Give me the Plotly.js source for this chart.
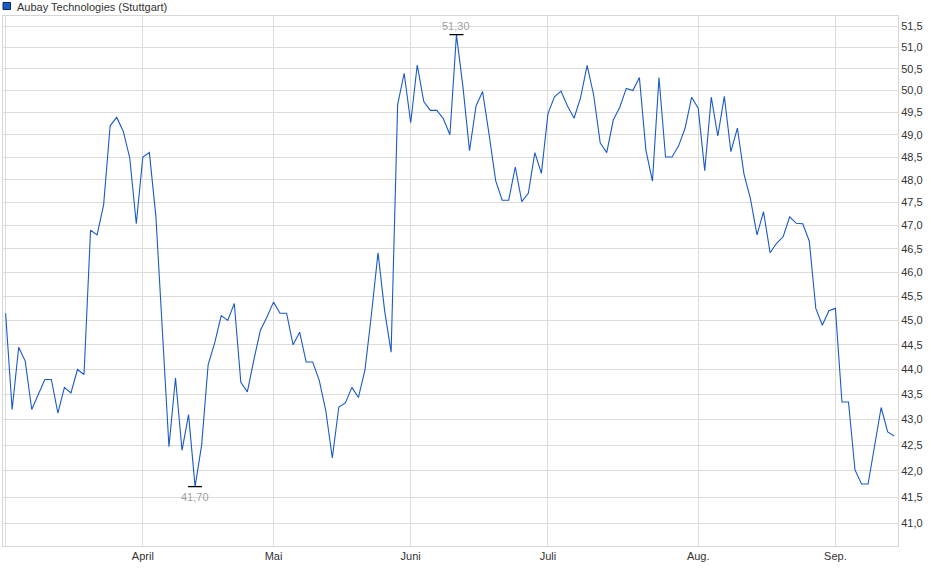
<!DOCTYPE html>
<html>
<head>
<meta charset="utf-8">
<script src="https://cdn.plot.ly/plotly-3.0.1.min.js"></script>
<style>
html,body{margin:0;padding:0;background:#fff;}
#chart{width:940px;height:579px;}
</style>
</head>
<body>
<div id="chart"></div>
<script>
// ---- data ----
const seriesName = 'Aubay Technologies (Stuttgart)';
const firstTradingDay = '2025-03-03';
const exchangeHolidays = ['2025-04-18', '2025-04-21', '2025-05-01'];

const prices = [
  45.15, 43.20, 44.45, 44.17, 43.20, 43.50, 43.80, 43.80, 43.13, 43.64,
  43.53, 44.00, 43.90, 46.90, 46.80, 47.45, 49.20, 49.39, 49.08, 48.48,
  47.04, 48.50, 48.60, 47.20, 44.80, 42.47, 43.83, 42.40, 43.10, 41.70,
  42.50, 44.10, 44.54, 45.10, 45.00, 45.35, 43.74, 43.55, 44.20, 44.80,
  45.07, 45.38, 45.15, 45.15, 44.50, 44.76, 44.15, 44.15, 43.78, 43.18,
  42.25, 43.25, 43.33, 43.64, 43.44, 43.99, 45.14, 46.42, 45.21, 44.35,
  49.68, 50.40, 49.27, 50.59, 49.75, 49.55, 49.55, 49.36, 49.00, 51.30,
  50.08, 48.64, 49.65, 49.98, 49.00, 47.98, 47.55, 47.55, 48.28, 47.52,
  47.70, 48.60, 48.14, 49.47, 49.86, 49.99, 49.65, 49.37, 49.84, 50.58,
  49.90, 48.82, 48.60, 49.33, 49.62, 50.05, 50.00, 50.30, 48.65, 47.97,
  50.30, 48.50, 48.50, 48.75, 49.15, 49.85, 49.60, 48.20, 49.85, 48.97,
  49.87, 48.62, 49.15, 48.13, 47.58, 46.80, 47.30, 46.42, 46.62, 46.76,
  47.19, 47.05, 47.04, 46.67, 45.25, 44.90, 45.20, 45.25, 43.35, 43.35,
  42.02, 41.75, 41.75, 42.53, 43.24, 42.76, 42.68
];

const monthTickDates  = ['2025-03-03', '2025-04-01', '2025-05-02', '2025-06-02', '2025-07-01', '2025-08-01', '2025-09-01'];
const monthTickLabels = ['', 'April', 'Mai', 'Juni', 'Juli', 'Aug.', 'Sep.'];

const yTickValues = [41.0, 41.5, 42.0, 42.5, 43.0, 43.5, 44.0, 44.5, 45.0, 45.5,
                     46.0, 46.5, 47.0, 47.5, 48.0, 48.5, 49.0, 49.5, 50.0, 50.5, 51.0, 51.5];

// ---- trading-day calendar (x categories) ----
function tradingDays(start, count, holidays) {
  const out = [];
  const d = new Date(start + 'T00:00:00Z');
  while (out.length < count) {
    const wd = d.getUTCDay();
    const iso = d.toISOString().slice(0, 10);
    if (wd !== 0 && wd !== 6 && holidays.indexOf(iso) < 0) out.push(iso);
    d.setUTCDate(d.getUTCDate() + 1);
  }
  return out;
}
const dates = tradingDays(firstTradingDay, prices.length, exchangeHolidays);

const maxVal = Math.max.apply(null, prices);
const minVal = Math.min.apply(null, prices);
const iMax = prices.indexOf(maxVal);
const iMin = prices.indexOf(minVal);
const fmt = v => v.toFixed(2).replace('.', ',');

const lineColor = '#1a5ac6';
const W = 940, H = 579;
const M = {l: 3, r: 42, t: 16, b: 33};
const pw = W - M.l - M.r, ph = H - M.t - M.b;
const px = x => (x - M.l) / pw;
const py = y => (H - M.b - y) / ph;

const traces = [
  {
    x: dates, y: prices, type: 'scatter', mode: 'lines',
    name: seriesName,
    line: {color: lineColor, width: 1.1},
    hoverinfo: 'x+y', showlegend: false
  },
  {
    x: [dates[iMax], dates[iMin]], y: [maxVal, minVal],
    type: 'scatter', mode: 'markers',
    marker: {symbol: 'line-ew', size: 10, color: '#000', line: {color: '#000', width: 1.3}},
    hoverinfo: 'skip', showlegend: false
  }
];

const layout = {
  width: W, height: H,
  margin: M,
  paper_bgcolor: '#fff', plot_bgcolor: '#fff',
  separators: ',.',
  font: {family: '"Liberation Sans", Arial, sans-serif', size: 11, color: '#333'},
  showlegend: false,
  xaxis: {
    type: 'category',
    range: [-0.4, prices.length - 1 + 0.58],
    tickmode: 'array', tickvals: monthTickDates, ticktext: monthTickLabels,
    showgrid: true, gridcolor: '#dcdcdc', gridwidth: 1,
    showline: true, mirror: true, linecolor: '#d6d6d6', linewidth: 1,
    ticks: '', zeroline: false,
    tickfont: {size: 11, color: '#333'}
  },
  yaxis: {
    type: 'log', side: 'right',
    range: [Math.log10(40.58), Math.log10(51.74)],
    tickmode: 'array', tickvals: yTickValues, tickformat: '.1f',
    showgrid: true, gridcolor: '#dcdcdc', gridwidth: 1,
    showline: true, mirror: true, linecolor: '#d6d6d6', linewidth: 1,
    ticks: '', zeroline: false,
    tickfont: {size: 11, color: '#333'}
  },
  shapes: [
    {type: 'rect', xref: 'paper', yref: 'paper',
     x0: px(3), x1: px(10.5), y0: py(9.5), y1: py(2.5),
     fillcolor: '#1a5ac6', line: {color: '#0b2a6b', width: 1}}
  ],
  annotations: [
    {xref: 'paper', yref: 'paper', x: px(15), y: py(6.5), xanchor: 'left', yanchor: 'middle',
     text: seriesName, showarrow: false, font: {size: 11, color: '#333'}},
    {xref: 'x', yref: 'y', x: dates[iMax], y: Math.log10(maxVal), yshift: 9,
     text: fmt(maxVal), showarrow: false, font: {size: 11, color: '#a0a0a0'}},
    {xref: 'x', yref: 'y', x: dates[iMin], y: Math.log10(minVal), yshift: -10,
     text: fmt(minVal), showarrow: false, font: {size: 11, color: '#a0a0a0'}}
  ]
};

Plotly.newPlot('chart', traces, layout, {displayModeBar: false, staticPlot: true});
</script>
</body>
</html>
